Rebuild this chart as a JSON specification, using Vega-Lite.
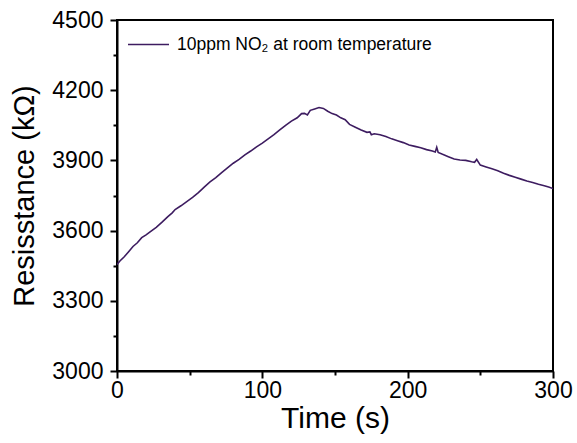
{
  "$schema": "https://vega.github.io/schema/vega-lite/v6.json",
  "width": 436,
  "height": 351,
  "autosize": {"type": "none"},
  "padding": {"left": 117, "top": 20, "right": 24, "bottom": 72},
  "background": "white",
  "config": {
    "font": "Liberation Sans",
    "view": {"stroke": "black", "strokeWidth": 2},
    "axis": {"grid": false, "domainColor": "black", "domainWidth": 2, "tickColor": "black", "tickWidth": 2, "labelColor": "black", "titleColor": "black", "labelFont": "Liberation Sans", "titleFont": "Liberation Sans", "titleFontWeight": "normal"}
  },
  "data": {"values": [
    {"t": 0, "r": 3455, "s": "10ppm NO₂ at room temperature"},
    {"t": 2, "r": 3470, "s": "10ppm NO₂ at room temperature"},
    {"t": 5, "r": 3488, "s": "10ppm NO₂ at room temperature"},
    {"t": 8, "r": 3510, "s": "10ppm NO₂ at room temperature"},
    {"t": 11, "r": 3532, "s": "10ppm NO₂ at room temperature"},
    {"t": 14, "r": 3548, "s": "10ppm NO₂ at room temperature"},
    {"t": 17, "r": 3570, "s": "10ppm NO₂ at room temperature"},
    {"t": 20, "r": 3582, "s": "10ppm NO₂ at room temperature"},
    {"t": 23, "r": 3596, "s": "10ppm NO₂ at room temperature"},
    {"t": 27, "r": 3614, "s": "10ppm NO₂ at room temperature"},
    {"t": 31, "r": 3636, "s": "10ppm NO₂ at room temperature"},
    {"t": 35, "r": 3660, "s": "10ppm NO₂ at room temperature"},
    {"t": 38, "r": 3676, "s": "10ppm NO₂ at room temperature"},
    {"t": 40, "r": 3690, "s": "10ppm NO₂ at room temperature"},
    {"t": 44, "r": 3706, "s": "10ppm NO₂ at room temperature"},
    {"t": 48, "r": 3724, "s": "10ppm NO₂ at room temperature"},
    {"t": 52, "r": 3742, "s": "10ppm NO₂ at room temperature"},
    {"t": 56, "r": 3762, "s": "10ppm NO₂ at room temperature"},
    {"t": 60, "r": 3786, "s": "10ppm NO₂ at room temperature"},
    {"t": 64, "r": 3808, "s": "10ppm NO₂ at room temperature"},
    {"t": 68, "r": 3826, "s": "10ppm NO₂ at room temperature"},
    {"t": 72, "r": 3848, "s": "10ppm NO₂ at room temperature"},
    {"t": 76, "r": 3868, "s": "10ppm NO₂ at room temperature"},
    {"t": 80, "r": 3888, "s": "10ppm NO₂ at room temperature"},
    {"t": 84, "r": 3904, "s": "10ppm NO₂ at room temperature"},
    {"t": 88, "r": 3924, "s": "10ppm NO₂ at room temperature"},
    {"t": 92, "r": 3940, "s": "10ppm NO₂ at room temperature"},
    {"t": 96, "r": 3958, "s": "10ppm NO₂ at room temperature"},
    {"t": 100, "r": 3974, "s": "10ppm NO₂ at room temperature"},
    {"t": 104, "r": 3992, "s": "10ppm NO₂ at room temperature"},
    {"t": 108, "r": 4010, "s": "10ppm NO₂ at room temperature"},
    {"t": 112, "r": 4030, "s": "10ppm NO₂ at room temperature"},
    {"t": 116, "r": 4050, "s": "10ppm NO₂ at room temperature"},
    {"t": 120, "r": 4068, "s": "10ppm NO₂ at room temperature"},
    {"t": 124, "r": 4082, "s": "10ppm NO₂ at room temperature"},
    {"t": 127, "r": 4100, "s": "10ppm NO₂ at room temperature"},
    {"t": 129, "r": 4101, "s": "10ppm NO₂ at room temperature"},
    {"t": 131, "r": 4094, "s": "10ppm NO₂ at room temperature"},
    {"t": 133, "r": 4114, "s": "10ppm NO₂ at room temperature"},
    {"t": 136, "r": 4120, "s": "10ppm NO₂ at room temperature"},
    {"t": 139, "r": 4126, "s": "10ppm NO₂ at room temperature"},
    {"t": 142, "r": 4122, "s": "10ppm NO₂ at room temperature"},
    {"t": 145, "r": 4110, "s": "10ppm NO₂ at room temperature"},
    {"t": 148, "r": 4100, "s": "10ppm NO₂ at room temperature"},
    {"t": 151, "r": 4094, "s": "10ppm NO₂ at room temperature"},
    {"t": 154, "r": 4082, "s": "10ppm NO₂ at room temperature"},
    {"t": 157, "r": 4074, "s": "10ppm NO₂ at room temperature"},
    {"t": 160, "r": 4054, "s": "10ppm NO₂ at room temperature"},
    {"t": 164, "r": 4042, "s": "10ppm NO₂ at room temperature"},
    {"t": 168, "r": 4030, "s": "10ppm NO₂ at room temperature"},
    {"t": 172, "r": 4020, "s": "10ppm NO₂ at room temperature"},
    {"t": 174, "r": 4022, "s": "10ppm NO₂ at room temperature"},
    {"t": 175, "r": 4010, "s": "10ppm NO₂ at room temperature"},
    {"t": 177, "r": 4014, "s": "10ppm NO₂ at room temperature"},
    {"t": 181, "r": 4010, "s": "10ppm NO₂ at room temperature"},
    {"t": 185, "r": 4002, "s": "10ppm NO₂ at room temperature"},
    {"t": 189, "r": 3992, "s": "10ppm NO₂ at room temperature"},
    {"t": 193, "r": 3984, "s": "10ppm NO₂ at room temperature"},
    {"t": 197, "r": 3976, "s": "10ppm NO₂ at room temperature"},
    {"t": 201, "r": 3966, "s": "10ppm NO₂ at room temperature"},
    {"t": 205, "r": 3960, "s": "10ppm NO₂ at room temperature"},
    {"t": 209, "r": 3954, "s": "10ppm NO₂ at room temperature"},
    {"t": 213, "r": 3946, "s": "10ppm NO₂ at room temperature"},
    {"t": 217, "r": 3940, "s": "10ppm NO₂ at room temperature"},
    {"t": 219, "r": 3936, "s": "10ppm NO₂ at room temperature"},
    {"t": 220, "r": 3956, "s": "10ppm NO₂ at room temperature"},
    {"t": 221, "r": 3934, "s": "10ppm NO₂ at room temperature"},
    {"t": 224, "r": 3926, "s": "10ppm NO₂ at room temperature"},
    {"t": 228, "r": 3916, "s": "10ppm NO₂ at room temperature"},
    {"t": 232, "r": 3906, "s": "10ppm NO₂ at room temperature"},
    {"t": 236, "r": 3902, "s": "10ppm NO₂ at room temperature"},
    {"t": 240, "r": 3900, "s": "10ppm NO₂ at room temperature"},
    {"t": 244, "r": 3894, "s": "10ppm NO₂ at room temperature"},
    {"t": 246, "r": 3892, "s": "10ppm NO₂ at room temperature"},
    {"t": 247.5, "r": 3904, "s": "10ppm NO₂ at room temperature"},
    {"t": 250, "r": 3880, "s": "10ppm NO₂ at room temperature"},
    {"t": 254, "r": 3872, "s": "10ppm NO₂ at room temperature"},
    {"t": 258, "r": 3864, "s": "10ppm NO₂ at room temperature"},
    {"t": 262, "r": 3856, "s": "10ppm NO₂ at room temperature"},
    {"t": 266, "r": 3845, "s": "10ppm NO₂ at room temperature"},
    {"t": 270, "r": 3836, "s": "10ppm NO₂ at room temperature"},
    {"t": 274, "r": 3828, "s": "10ppm NO₂ at room temperature"},
    {"t": 278, "r": 3820, "s": "10ppm NO₂ at room temperature"},
    {"t": 282, "r": 3812, "s": "10ppm NO₂ at room temperature"},
    {"t": 286, "r": 3806, "s": "10ppm NO₂ at room temperature"},
    {"t": 290, "r": 3798, "s": "10ppm NO₂ at room temperature"},
    {"t": 294, "r": 3792, "s": "10ppm NO₂ at room temperature"},
    {"t": 297, "r": 3786, "s": "10ppm NO₂ at room temperature"},
    {"t": 300, "r": 3780, "s": "10ppm NO₂ at room temperature"}
  ]},
  "mark": {"type": "line", "strokeWidth": 1.6, "clip": true},
  "encoding": {
    "x": {
      "field": "t", "type": "quantitative",
      "scale": {"domain": [0, 300], "nice": false},
      "axis": {
        "title": "Time (s)", "titleFontSize": 30, "titlePadding": 1,
        "values": [0, 50, 100, 150, 200, 250, 300],
        "labelExpr": "datum.value % 100 === 0 ? datum.label : ''",
        "labelFontSize": 23, "labelPadding": 1, "labelFlush": false,
        "tickSize": {"condition": {"test": "datum.value % 100 === 0", "value": 7}, "value": 4}
      }
    },
    "y": {
      "field": "r", "type": "quantitative",
      "scale": {"domain": [3000, 4500], "nice": false, "zero": false},
      "axis": {
        "title": "Resisstance (kΩ)", "titleFontSize": 29, "titlePadding": 12,
        "values": [3000, 3150, 3300, 3450, 3600, 3750, 3900, 4050, 4200, 4350, 4500],
        "labelExpr": "datum.value % 300 === 0 ? datum.label : ''",
        "format": "d",
        "labelFontSize": 23, "labelPadding": 7, "labelFlush": false,
        "tickSize": {"condition": {"test": "datum.value % 300 === 0", "value": 7}, "value": 4}
      }
    },
    "color": {
      "field": "s", "type": "nominal",
      "scale": {"range": ["#3d1c60"]},
      "legend": {
        "title": null, "orient": "none", "legendX": 10, "legendY": 3,
        "symbolType": "stroke", "symbolSize": 1681, "symbolStrokeWidth": 1.6,
        "labelFontSize": 17.5, "labelFont": "Liberation Sans", "labelColor": "black", "labelOffset": 7, "labelLimit": 0, "padding": 0
      }
    }
  }
}
